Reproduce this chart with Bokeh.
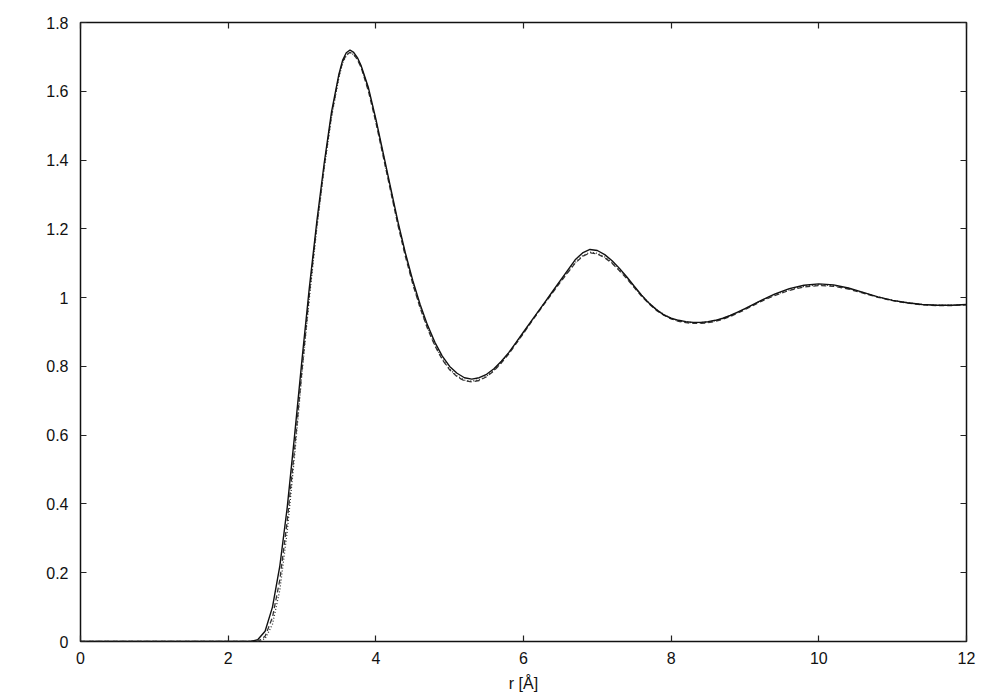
from bokeh.plotting import figure
from bokeh.models import LinearAxis, FixedTicker, Range1d
from bokeh.embed import file_html
from bokeh.resources import INLINE

# ---- data ----
r = [0.0, 2.0, 2.1, 2.2, 2.3, 2.4, 2.5, 2.6, 2.7, 2.8, 2.9,
     3.0, 3.1, 3.2, 3.3, 3.4, 3.5, 3.55, 3.6, 3.65, 3.7, 3.75, 3.8, 3.9,
     4.0, 4.1, 4.2, 4.3, 4.4, 4.5, 4.6, 4.7, 4.8, 4.9,
     5.0, 5.1, 5.2, 5.3, 5.4, 5.5, 5.6, 5.7, 5.8, 5.9,
     6.0, 6.1, 6.2, 6.3, 6.4, 6.5, 6.6, 6.7, 6.8, 6.9,
     7.0, 7.1, 7.2, 7.3, 7.4, 7.5, 7.6, 7.7, 7.8, 7.9,
     8.0, 8.1, 8.2, 8.3, 8.4, 8.5, 8.6, 8.7, 8.8, 8.9,
     9.0, 9.2, 9.4, 9.6, 9.8, 10.0, 10.2, 10.4, 10.6, 10.8,
     11.0, 11.2, 11.4, 11.6, 11.8, 12.0]

g_solid = [0.0, 0.0, 0.0, 0.0, 0.0, 0.005, 0.03, 0.10, 0.22, 0.39, 0.60,
           0.82, 1.03, 1.22, 1.39, 1.54, 1.65, 1.69, 1.712, 1.72, 1.713, 1.698, 1.675, 1.61,
           1.52, 1.42, 1.32, 1.22, 1.13, 1.05, 0.98, 0.92, 0.87, 0.83,
           0.80, 0.78, 0.767, 0.763, 0.767, 0.777, 0.793, 0.815, 0.84, 0.87,
           0.90, 0.93, 0.96, 0.99, 1.02, 1.05, 1.08, 1.11, 1.13, 1.14,
           1.137, 1.125, 1.107, 1.085, 1.06, 1.033, 1.007, 0.984, 0.965, 0.95,
           0.94, 0.934, 0.93, 0.928, 0.928, 0.93, 0.934, 0.94, 0.948, 0.958,
           0.968, 0.99, 1.01, 1.026, 1.036, 1.04, 1.037, 1.028, 1.015, 1.002,
           0.992, 0.985, 0.98, 0.978, 0.978, 0.98]

g_dashed = [0.0, 0.0, 0.0, 0.0, 0.0, 0.0, 0.015, 0.07, 0.18, 0.35, 0.56,
            0.79, 1.01, 1.21, 1.38, 1.53, 1.645, 1.685, 1.706, 1.713, 1.707, 1.692, 1.67, 1.60,
            1.51, 1.41, 1.31, 1.21, 1.12, 1.04, 0.97, 0.91, 0.86, 0.82,
            0.79, 0.77, 0.758, 0.755, 0.759, 0.77, 0.787, 0.81, 0.836, 0.866,
            0.896, 0.927, 0.957, 0.987, 1.016, 1.045, 1.073, 1.10, 1.12, 1.13,
            1.127, 1.116, 1.10, 1.078, 1.055, 1.029, 1.004, 0.982, 0.963, 0.949,
            0.938, 0.931, 0.927, 0.925, 0.925, 0.927, 0.931, 0.937, 0.945, 0.955,
            0.965, 0.987, 1.006, 1.021, 1.031, 1.035, 1.033, 1.025, 1.013, 1.001,
            0.991, 0.984, 0.979, 0.977, 0.977, 0.979]

g_dotted = [0.0, 0.0, 0.0, 0.0, 0.0, 0.0, 0.008, 0.05, 0.15, 0.32, 0.54,
            0.78, 1.00, 1.20, 1.375, 1.525, 1.64, 1.682, 1.704, 1.712, 1.707, 1.693, 1.672, 1.605,
            1.515, 1.415, 1.315, 1.215, 1.125, 1.043, 0.972, 0.912, 0.862, 0.822,
            0.792, 0.772, 0.76, 0.757, 0.761, 0.772, 0.789, 0.812, 0.838, 0.868,
            0.898, 0.929, 0.959, 0.989, 1.018, 1.047, 1.075, 1.102, 1.122, 1.132,
            1.129, 1.118, 1.102, 1.08, 1.057, 1.031, 1.006, 0.984, 0.965, 0.951,
            0.94, 0.933, 0.929, 0.927, 0.927, 0.929, 0.933, 0.939, 0.947, 0.957,
            0.967, 0.989, 1.008, 1.023, 1.033, 1.037, 1.035, 1.027, 1.014, 1.002,
            0.992, 0.985, 0.98, 0.978, 0.978, 0.98]

xticks = [0, 2, 4, 6, 8, 10, 12]
xtick_labels = ["0", "2", "4", "6", "8", "10", "12"]
yticks = [0, 0.2, 0.4, 0.6, 0.8, 1.0, 1.2, 1.4, 1.6, 1.8]
ytick_labels = ["0", "0.2", "0.4", "0.6", "0.8", "1", "1.2", "1.4", "1.6", "1.8"]
x_label = "r [Å]"

FONT = "Liberation Sans"

p = figure(width=992, height=692, output_backend="svg", toolbar_location=None,
           x_range=Range1d(0, 12), y_range=Range1d(0, 1.8),
           min_border_left=80, min_border_top=22, min_border_right=26,
           min_border_bottom=51, x_axis_location=None, y_axis_location=None)
p.frame_width = 886
p.frame_height = 619
p.xgrid.visible = False
p.ygrid.visible = False
p.outline_line_color = "#111111"
p.outline_line_width = 1.5
p.background_fill_color = "white"
p.border_fill_color = "white"

def style(ax, labels):
    ax.axis_line_color = None
    ax.major_tick_in = 6
    ax.major_tick_out = 0
    ax.minor_tick_line_color = None
    ax.major_tick_line_color = "#222222"
    ax.major_tick_line_width = 1.2
    ax.major_label_text_font = FONT
    ax.major_label_text_font_size = "16px"
    ax.major_label_text_color = "#111111"
    if not labels:
        ax.major_label_text_font_size = "0px"
        ax.major_label_text_color = None

xb = LinearAxis(ticker=FixedTicker(ticks=xticks),
                major_label_overrides={t: l for t, l in zip(xticks, xtick_labels)})
style(xb, True)
xb.major_label_standoff = 10
xb.axis_label = x_label
xb.axis_label_text_font = FONT
xb.axis_label_text_font_size = "16px"
xb.axis_label_text_font_style = "normal"
xb.axis_label_text_color = "#111111"
xb.axis_label_standoff = 8
p.add_layout(xb, "below")

xt = LinearAxis(ticker=FixedTicker(ticks=xticks))
style(xt, False)
p.add_layout(xt, "above")

yl = LinearAxis(ticker=FixedTicker(ticks=yticks),
                major_label_overrides={t: l for t, l in zip(yticks, ytick_labels)})
style(yl, True)
yl.major_label_standoff = 12
p.add_layout(yl, "left")

yr = LinearAxis(ticker=FixedTicker(ticks=yticks))
style(yr, False)
p.add_layout(yr, "right")

p.line(r, g_dotted, line_color="#333333", line_width=1.3, line_dash="1 2")
p.line(r, g_dashed, line_color="#333333", line_width=1.3, line_dash="5 3")
p.line(r, g_solid, line_color="#111111", line_width=1.4)

open("out.html", "w").write(file_html(p, INLINE))
